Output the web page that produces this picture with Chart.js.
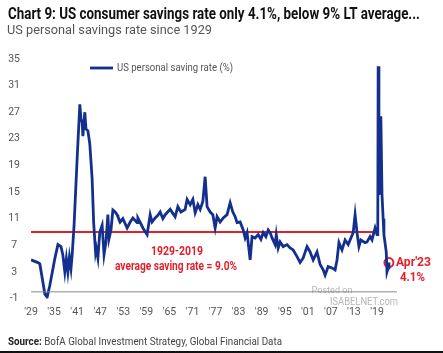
<!DOCTYPE html>
<html>
<head>
<meta charset="utf-8">
<script src="https://cdn.jsdelivr.net/npm/chart.js@4.4.0/dist/chart.umd.min.js"></script>
<style>
  html, body { margin: 0; padding: 0; background: #fff; }
  canvas { display: block; }
</style>
</head>
<body>
<canvas id="myChart" width="443" height="353"></canvas>
<script>
// US personal saving rate (%)
const years = [
  1929.0, 1930.8, 1931.3, 1932.6, 1933.2, 1933.9, 1935.2, 1936.0, 1936.8, 1937.3,
  1937.8, 1938.2, 1938.6, 1939.0, 1939.4, 1939.7, 1940.2, 1941.0, 1941.7, 1942.0,
  1942.3, 1942.5, 1943.0, 1943.3, 1943.8, 1944.3, 1944.9, 1945.3, 1945.8, 1946.0,
  1946.4, 1946.9, 1947.5, 1948.0, 1948.5, 1949.0, 1949.3, 1949.8, 1950.3, 1950.9,
  1951.4, 1951.6, 1952.2, 1952.9, 1954.0, 1954.8, 1955.5, 1956.6, 1956.8, 1957.6,
  1958.1, 1959.2, 1960.0, 1960.5, 1961.3, 1962.0, 1962.6, 1963.3, 1963.9, 1965.2,
  1965.9, 1966.5, 1967.2, 1968.0, 1969.1, 1969.6, 1970.4, 1971.1, 1971.7, 1972.4,
  1973.0, 1973.7, 1974.3, 1974.8, 1975.6, 1976.3, 1976.9, 1977.4, 1978.2, 1979.0,
  1980.0, 1980.8, 1981.5, 1982.1, 1982.6, 1983.4, 1984.2, 1984.7, 1985.2, 1986.0,
  1986.5, 1987.3, 1988.1, 1988.8, 1989.4, 1990.1, 1990.7, 1991.2, 1991.7, 1992.5,
  1992.8, 1993.3, 1993.8, 1994.6, 1995.6, 1996.4, 1997.2, 1998.2, 1999.0, 1999.8,
  2000.8, 2001.6, 2002.4, 2003.4, 2004.2, 2005.0, 2005.5, 2006.3, 2007.3, 2008.1,
  2008.6, 2009.1, 2009.9, 2010.7, 2011.5, 2012.0, 2012.8, 2013.3, 2013.8, 2014.3,
  2014.8, 2015.9, 2016.4, 2017.2, 2017.7, 2018.5, 2019.0, 2019.2, 2019.3, 2019.5,
  2019.8, 2020.0, 2020.3, 2020.6, 2020.8, 2021.4, 2021.6, 2021.9, 2022.1
];
const rates = [
  4.8, 4.4, 4.2, -0.3, -0.8, 1.0, 5.0, 7.1, 6.8, 5.5,
  3.0, 5.0, 3.0, 5.2, 3.5, 5.5, 10.0, 20.0, 28.2, 26.0,
  25.5, 23.4, 27.0, 24.5, 24.2, 22.2, 17.0, 10.4, 5.9, 6.5,
  5.1, 9.0, 10.0, 5.6, 7.5, 11.6, 8.0, 9.3, 12.3, 12.0,
  11.6, 11.3, 10.5, 11.0, 9.6, 10.5, 11.1, 10.4, 11.1, 10.2,
  9.6, 8.6, 11.6, 10.5, 11.1, 11.5, 12.0, 11.0, 11.6, 12.4,
  11.8, 11.3, 12.8, 12.0, 12.4, 13.9, 13.1, 13.9, 11.9, 13.1,
  12.4, 13.6, 17.3, 12.8, 12.0, 11.6, 9.6, 11.3, 10.5, 11.1,
  11.6, 13.4, 12.0, 11.3, 10.4, 10.5, 9.3, 8.1, 8.9, 4.8,
  8.3, 8.1, 8.6, 7.9, 8.9, 8.3, 9.3, 8.9, 8.1, 7.1,
  8.6, 6.6, 7.5, 6.8, 7.1, 6.6, 6.3, 5.3, 4.4, 5.1,
  6.8, 6.0, 4.8, 6.0, 4.1, 3.3, 2.5, 3.8, 3.6, 3.3,
  4.8, 7.4, 6.3, 7.8, 7.1, 7.8, 8.9, 11.6, 8.9, 6.8,
  7.8, 7.4, 7.5, 8.3, 7.8, 9.6, 8.6, 9.0, 33.9, 14.6,
  15.5, 26.4, 14.6, 11.0, 8.6, 6.0, 3.0, 3.6, 4.4
];
const avgYears = [1929, 2019];
const avgRate = 9.0;
const zeroYears = [1929, 2024.2];
const xTickYears = [1929, 1935, 1941, 1947, 1953, 1959, 1965, 1971, 1977, 1983, 1989, 1995, 2001, 2007, 2013, 2019];
const yMin = -1, yMax = 35, yStep = 4;
const latestLabel = "Apr'23";
const latestText = '4.1%';

const FONT = "Roboto, 'DejaVu Sans', sans-serif";
const NAVY = '#13308f';
const RED = '#e3202a';

Chart.defaults.font.family = FONT;
Chart.defaults.font.size = 10.5;
Chart.defaults.color = '#555';

const lastIdx = years.length - 1;

// draw text squeezed/stretched to a given width (the source uses a condensed face)
function fitText(c, text, x, y, width, align) {
  const k = width / c.measureText(text).width;
  const left = align === 'center' ? x - width / 2 : x;
  c.save();
  c.translate(left, y);
  c.scale(k, 1);
  c.textAlign = 'left';
  c.fillText(text, 0, 0);
  c.restore();
}

const textLayer = {
  id: 'textLayer',
  afterDraw(chart) {
    const c = chart.ctx;
    c.save();
    c.textBaseline = 'alphabetic';
    // title + subtitle
    c.fillStyle = '#111';
    c.font = 'bold 16px ' + FONT;
    fitText(c, 'Chart 9: US consumer savings rate only 4.1%, below 9% LT average...', 8, 19, 412);
    c.fillStyle = '#555';
    c.font = '12.5px ' + FONT;
    fitText(c, 'US personal savings rate since 1929', 7, 34, 205);

    // legend
    c.strokeStyle = NAVY;
    c.lineWidth = 2.8;
    c.beginPath();
    c.moveTo(90, 68);
    c.lineTo(113, 68);
    c.stroke();
    c.fillStyle = '#555';
    c.font = '11px ' + FONT;
    c.textBaseline = 'middle';
    fitText(c, 'US personal saving rate (%)', 117, 68, 116);

    // average annotation
    c.fillStyle = RED;
    c.font = 'bold 12px ' + FONT;
    fitText(c, '1929-2019', 177, 252, 52, 'center');
    fitText(c, 'average saving rate = ' + avgRate.toFixed(1) + '%', 176, 267, 122, 'center');

    // latest value annotation
    const pt = chart.getDatasetMeta(3).data[0];
    fitText(c, latestLabel, pt.x + 7, pt.y, 35);
    fitText(c, latestText, pt.x + 11, pt.y + 15, 25);

    // watermark
    c.fillStyle = 'rgba(120,120,120,0.55)';
    c.font = '9px ' + FONT;
    fitText(c, 'Posted on', 332, 291, 41, 'center');
    c.font = '10px ' + FONT;
    fitText(c, 'ISABELNET.com', 364, 302, 68, 'center');

    // source
    c.textBaseline = 'middle';
    c.font = 'bold 11px ' + FONT;
    const w1 = c.measureText('Source: ').width;
    c.font = '11px ' + FONT;
    const rest = 'BofA Global Investment Strategy, Global Financial Data';
    const w2 = c.measureText(rest).width;
    const k = 274 / (w1 + w2);
    c.save();
    c.translate(8, 342);
    c.scale(k, 1);
    c.fillStyle = '#222';
    c.font = 'bold 11px ' + FONT;
    c.fillText('Source:', 0, 0);
    c.fillStyle = '#444';
    c.font = '11px ' + FONT;
    c.fillText(rest, w1, 0);
    c.restore();

    // bottom rule
    c.fillStyle = '#111';
    c.fillRect(0, 351, 443, 2);
    c.restore();
  }
};

var ctx = document.getElementById('myChart');
var myChart = new Chart(ctx, {
  type: 'line',
  data: {
    datasets: [
      {
        label: 'zero',
        data: zeroYears.map(x => ({ x: x, y: 0 })),
        borderColor: '#8a8a8a',
        borderWidth: 1,
        pointRadius: 0
      },
      {
        label: 'US personal saving rate (%)',
        data: years.map((x, i) => ({ x: x, y: rates[i] })),
        borderColor: NAVY,
        borderWidth: 2.8,
        pointRadius: 0,
        tension: 0
      },
      {
        label: 'average',
        data: avgYears.map(x => ({ x: x, y: avgRate })),
        borderColor: RED,
        borderWidth: 2,
        pointRadius: 0
      },
      {
        label: 'latest',
        data: [{ x: years[lastIdx], y: rates[lastIdx] }],
        showLine: false,
        pointRadius: 4.5,
        pointBorderWidth: 2,
        pointBorderColor: RED,
        pointBackgroundColor: 'rgba(0,0,0,0)'
      }
    ]
  },
  options: {
    responsive: false,
    animation: false,
    layout: { padding: { top: 59, left: 0, right: 46, bottom: 0 } },
    plugins: { legend: { display: false }, tooltip: { enabled: false } },
    scales: {
      x: {
        type: 'linear',
        min: 1929,
        max: 2024.2,
        grid: { display: false, drawTicks: false },
        border: { display: false },
        afterBuildTicks: s => { s.ticks = xTickYears.map(v => ({ value: v })); },
        afterFit: s => { s.height = 54.5; },
        ticks: {
          padding: 8,
          autoSkip: false,
          maxRotation: 0,
          callback: v => "'" + String(v).slice(2)
        }
      },
      y: {
        min: yMin,
        max: yMax,
        grid: { display: false, drawTicks: false },
        border: { display: false },
        afterFit: s => { s.width = 31; },
        ticks: { stepSize: yStep, padding: 11, crossAlign: 'center' }
      }
    }
  },
  plugins: [textLayer]
});
</script>
</body>
</html>
